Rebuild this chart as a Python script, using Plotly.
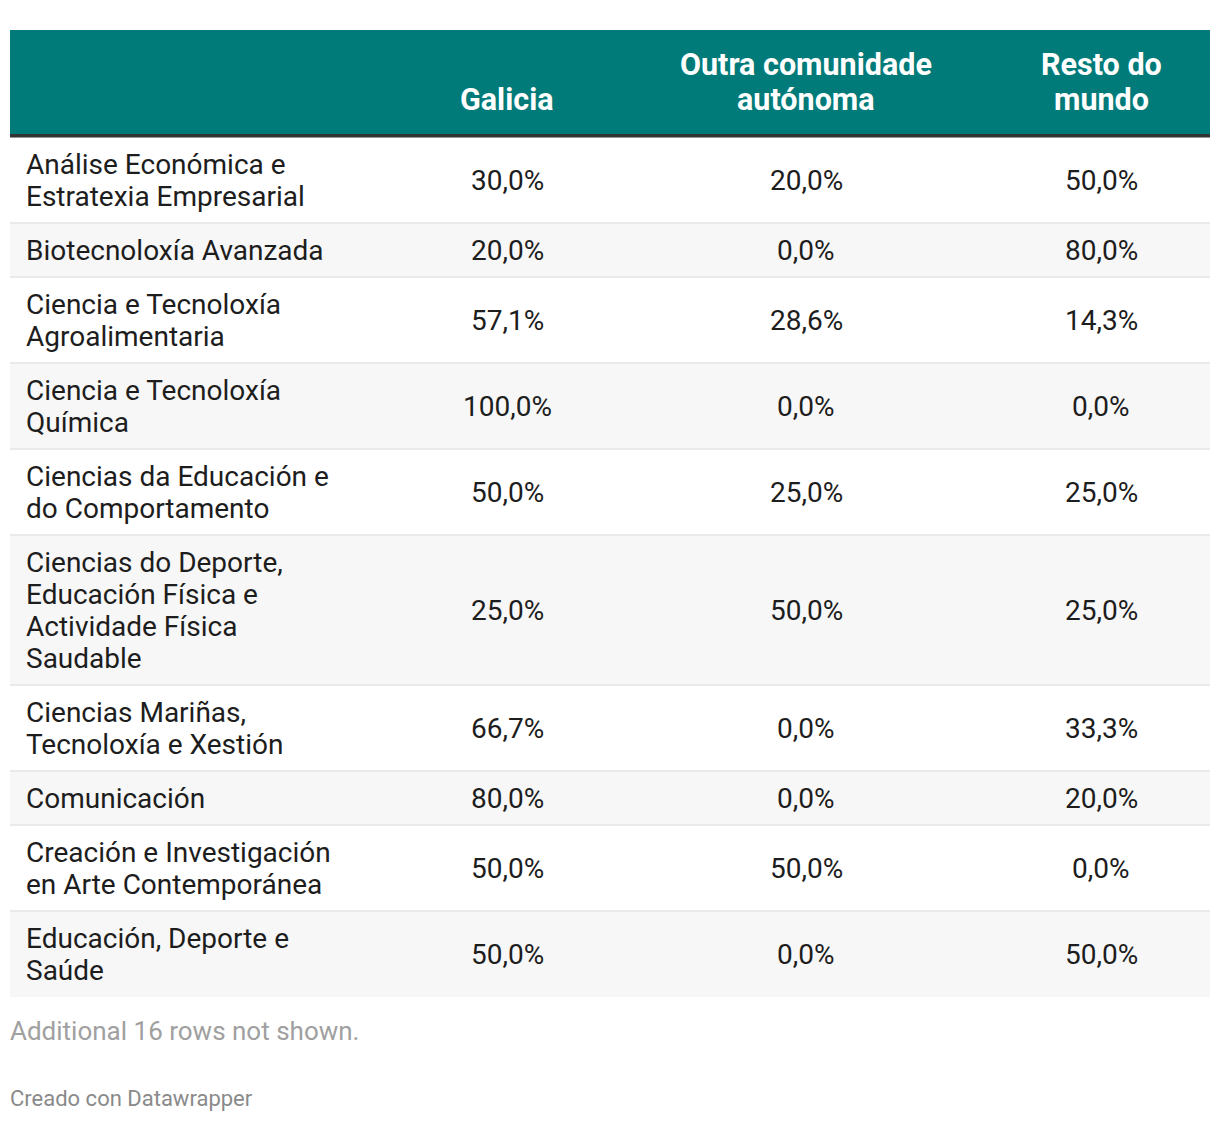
import textwrap
import plotly.graph_objects as go

# ---------------- data ----------------
programs = [
    "Análise Económica e Estratexia Empresarial",
    "Biotecnoloxía Avanzada",
    "Ciencia e Tecnoloxía Agroalimentaria",
    "Ciencia e Tecnoloxía Química",
    "Ciencias da Educación e do Comportamento",
    "Ciencias do Deporte, Educación Física e Actividade Física Saudable",
    "Ciencias Mariñas, Tecnoloxía e Xestión",
    "Comunicación",
    "Creación e Investigación en Arte Contemporánea",
    "Educación, Deporte e Saúde",
]
galicia = [30.0, 20.0, 57.1, 100.0, 50.0, 25.0, 66.7, 80.0, 50.0, 50.0]
outra_comunidade = [20.0, 0.0, 28.6, 0.0, 25.0, 50.0, 0.0, 0.0, 50.0, 0.0]
resto_mundo = [50.0, 80.0, 14.3, 0.0, 25.0, 25.0, 33.3, 20.0, 0.0, 50.0]
column_headers = ["Galicia", "Outra comunidade<br>autónoma", "Resto do<br>mundo"]
footnote = "Additional 16 rows not shown."
credit = "Creado con Datawrapper"

# ---------------- layout constants ----------------
W, H = 1220, 1122
LEFT, RIGHT = 10, 1210
HEAD_TOP, HEAD_BOTTOM = 30, 134
RULE_W = 3.5
LINE_H = 32
PAD = 11
COL_CENTERS = [507, 806, 1101]
LABEL_X = 24
TEAL = "#017b79"
BODY_FONT = dict(family="Roboto", size=28, color="#1d1d1d")
HEAD_FONT = dict(family="Roboto", size=30.5, color="#ffffff", weight=700)


def fmt(v):
    return f"{v:.1f}".replace(".", ",") + "%"


fig = go.Figure()
shapes = []
annotations = []

# header
shapes.append(dict(type="rect", xref="x", yref="y", x0=LEFT, x1=RIGHT,
                   y0=HEAD_TOP, y1=HEAD_BOTTOM, fillcolor=TEAL, line_width=0, layer="below"))
shapes.append(dict(type="rect", xref="x", yref="y", x0=LEFT, x1=RIGHT,
                   y0=HEAD_BOTTOM, y1=HEAD_BOTTOM + RULE_W, fillcolor="#333333",
                   line_width=0, layer="below"))

HEAD_LINE_CENTERS = [64, 99]
for cx, head in zip(COL_CENTERS, column_headers):
    lines = head.split("<br>")
    centers = HEAD_LINE_CENTERS[-len(lines):]
    for ln, cy in zip(lines, centers):
        annotations.append(dict(x=cx, y=cy, xref="x", yref="y", text=ln, showarrow=False,
                                xanchor="center", yanchor="middle", font=HEAD_FONT))

# body
top = HEAD_BOTTOM + RULE_W - 0.5
for i, name in enumerate(programs):
    lines = textwrap.wrap(name, width=24)
    h = 2 * PAD + LINE_H * len(lines)
    bottom = top + h
    if i % 2 == 1:
        shapes.append(dict(type="rect", xref="x", yref="y", x0=LEFT, x1=RIGHT,
                           y0=top, y1=bottom, fillcolor="#f7f7f7", line_width=0, layer="below"))
    if i < len(programs) - 1:
        shapes.append(dict(type="line", xref="x", yref="y", x0=LEFT, x1=RIGHT,
                           y0=bottom, y1=bottom, line=dict(color="#e3e3e3", width=1.5)))
    for k, ln in enumerate(lines):
        annotations.append(dict(x=LABEL_X, y=top + PAD + LINE_H / 2 + LINE_H * k,
                                xref="x", yref="y", text=ln, showarrow=False,
                                xanchor="left", yanchor="middle", font=BODY_FONT))
    mid = (top + bottom) / 2
    for cx, val in zip(COL_CENTERS, (galicia[i], outra_comunidade[i], resto_mundo[i])):
        annotations.append(dict(x=cx, y=mid, xref="x", yref="y", text=fmt(val),
                                showarrow=False, xanchor="center", yanchor="middle",
                                font=BODY_FONT))
    top = bottom

# footer
annotations.append(dict(x=LEFT - 2, y=1031, xref="x", yref="y", text=footnote, showarrow=False,
                        xanchor="left", yanchor="middle",
                        font=dict(family="Roboto", size=26, color="#a0a0a0")))
annotations.append(dict(x=LEFT - 2, y=1098, xref="x", yref="y", text=credit, showarrow=False,
                        xanchor="left", yanchor="middle",
                        font=dict(family="Roboto", size=22, color="#8a8a8a")))

fig.update_layout(
    width=W, height=H,
    margin=dict(l=0, r=0, t=0, b=0),
    paper_bgcolor="white", plot_bgcolor="white",
    xaxis=dict(range=[0, W], visible=False, fixedrange=True),
    yaxis=dict(range=[H, 0], visible=False, fixedrange=True),
    shapes=shapes, annotations=annotations, showlegend=False,
)
fig.write_html("out.html", config={"displayModeBar": False},
               post_script="document.body.style.margin='0';document.body.style.overflow='hidden';")
